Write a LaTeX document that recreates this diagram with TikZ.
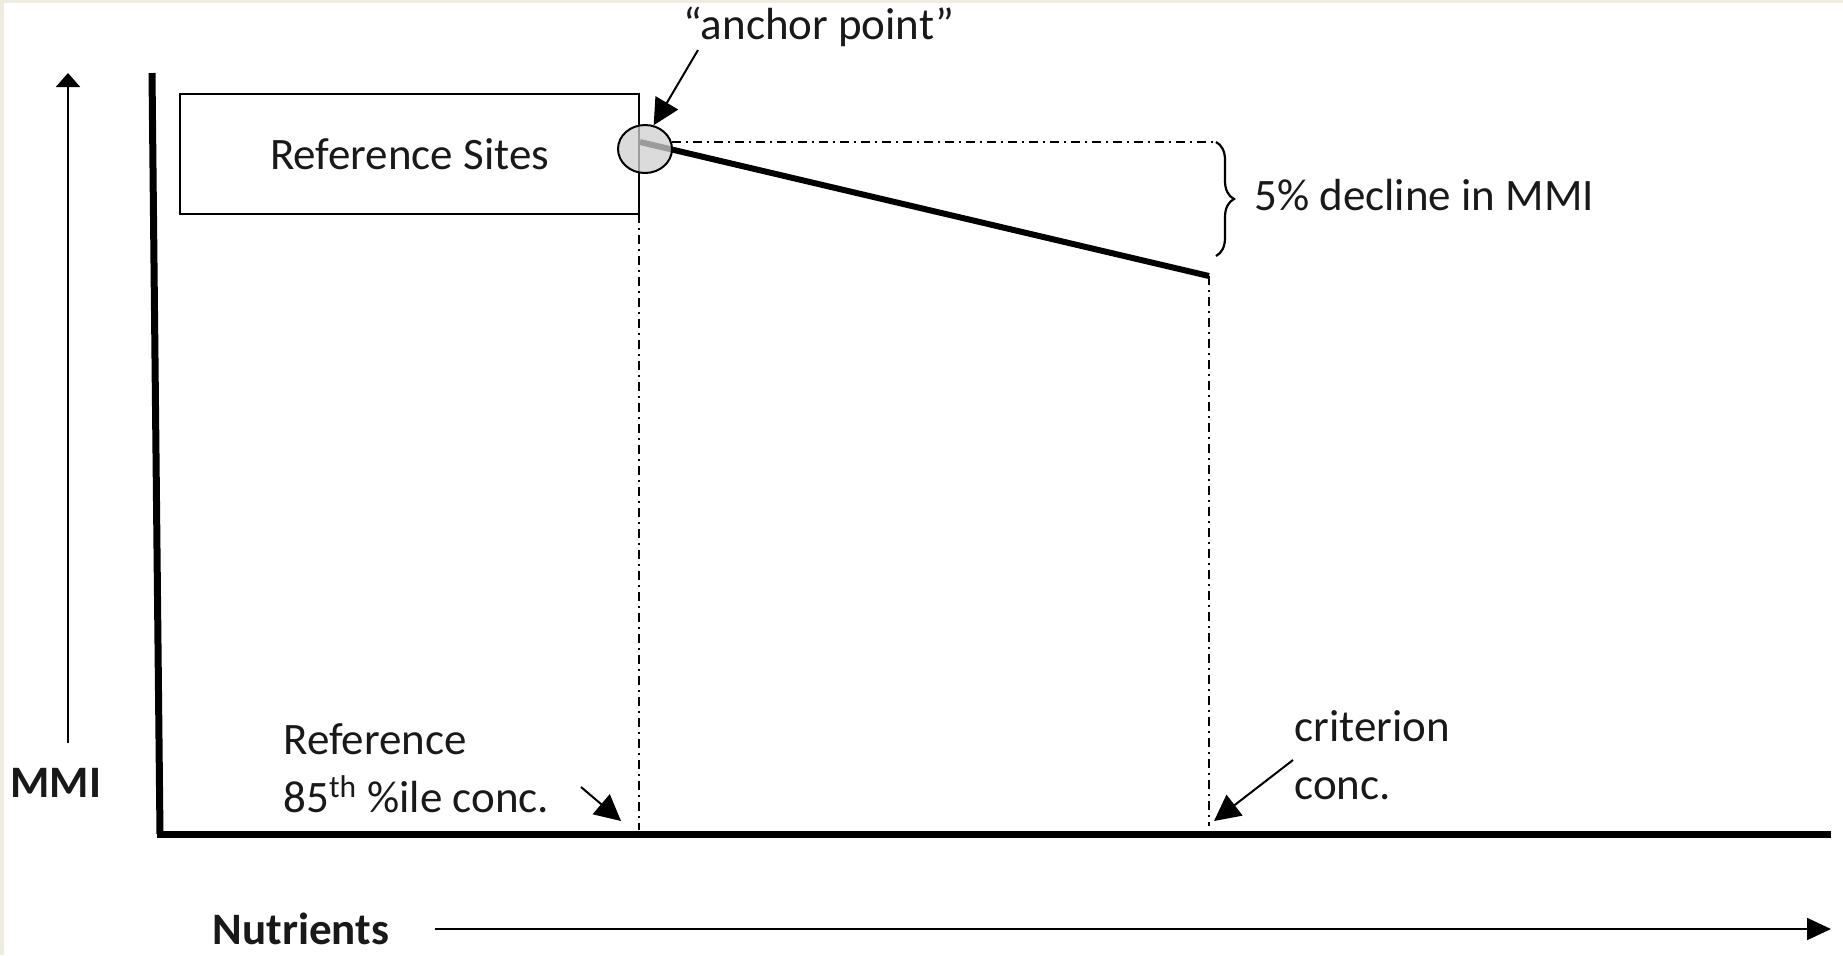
\documentclass[tikz,border=0pt]{standalone}
\usepackage{fontspec}
\setmainfont{Carlito}
\usetikzlibrary{arrows.meta,decorations.pathreplacing,calc,shapes.geometric}
\definecolor{framebg}{HTML}{EEECE1}
\definecolor{ancfill}{HTML}{D0D0D0}
\begin{document}
\begin{tikzpicture}[x=0.5pt,y=-0.5pt,
  lbl/.style={font=\fontsize{22.5}{29}\selectfont, inner sep=0pt, text=black!90},
  blbl/.style={lbl, font=\fontsize{22.5}{29}\selectfont\bfseries},
  axisline/.style={line width=3.5pt, black},
  thinarrow/.style={line width=1pt, -{Triangle[length=12pt,width=11pt]}},
  ptrarrow/.style={line width=1pt, -{Triangle[length=13pt,width=13pt]}},
  guide/.style={line width=0.8pt, dash pattern=on 4.5pt off 2.5pt on 1pt off 2.5pt},
  boxstyle/.style={draw, line width=1pt, minimum width=229.5pt, minimum height=60pt, inner sep=0pt}
]
\useasboundingbox (0,0) rectangle (1843,955);
\fill[white] (0,0) rectangle (1843,955);
\fill[framebg] (0,0) rectangle (1843,3);
\fill[framebg] (0,0) rectangle (4,955);

% axes
\coordinate (ytop) at (152,73);
\coordinate (orig) at (160,834);
\coordinate (xend) at (1831,834);
\draw[axisline] (ytop) -- (orig);
\draw[axisline] ($(orig)+(-3.5,0)$) -- (xend);

% axis direction arrows and labels
\node[blbl] (mmi) at (56,783) {MMI};
\coordinate (mmitail) at (68,743);
\coordinate (mmitip) at (68,73);
\draw[line width=1pt, -{Triangle[length=7pt,width=12pt]}] (mmitail) -- (mmitip);

\node[blbl] (nut) at (301,929) {Nutrients};
\coordinate (nuttail) at (435,929);
\coordinate (nuttip) at (1831,929);
\draw[thinarrow] (nuttail) -- (nuttip);

% reference sites box
\node[boxstyle, lbl] (ref) at (409.5,154) {Reference Sites};

% guide lines
\coordinate (v1top) at (639,214);
\coordinate (v1bot) at (639,830);
\draw[guide] (v1top) -- (v1bot);
\coordinate (p1) at (1209,276);
\coordinate (v2bot) at (1209,826);
\draw[guide] (p1) -- (v2bot);
\coordinate (h0) at (672,142);
\coordinate (h1) at (1214,142);
\draw[guide] (h0) -- (h1);

% decline line and anchor point
\coordinate (p0) at (640,142);
\draw[line width=3pt] (p0) -- (p1);
\node[ellipse, draw, line width=1pt, fill=ancfill, fill opacity=0.75, minimum width=27pt, minimum height=24pt, inner sep=0pt] (anc) at (645,149) {};

% brace
\coordinate (b0) at (1216,142);
\coordinate (b1) at (1216,256);
\draw[line width=1.1pt, decorate, decoration={brace, amplitude=9pt}] (b0) -- (b1);
\node[lbl, anchor=west] (decl) at (1254,195) {5\% decline in MMI};

% anchor point label
\node[lbl] (alab) at (819,27) {“anchor point”};
\coordinate (atail) at (698,50);
\draw[ptrarrow] (atail) -- (anc.70);

% reference 85th label
\node[lbl, anchor=west, align=left] (r85) at (283,768) {Reference\\85\textsuperscript{th} \%ile conc.};
\coordinate (r85tail) at (581,787);
\coordinate (r85tip) at (621,821);
\draw[ptrarrow] (r85tail) -- (r85tip);

% criterion label
\node[lbl, anchor=west, align=left] (crit) at (1294,755) {criterion\\conc.};
\coordinate (crittail) at (1293,760);
\coordinate (crittip) at (1214,821);
\draw[ptrarrow] (crittail) -- (crittip);
\end{tikzpicture}
\end{document}
